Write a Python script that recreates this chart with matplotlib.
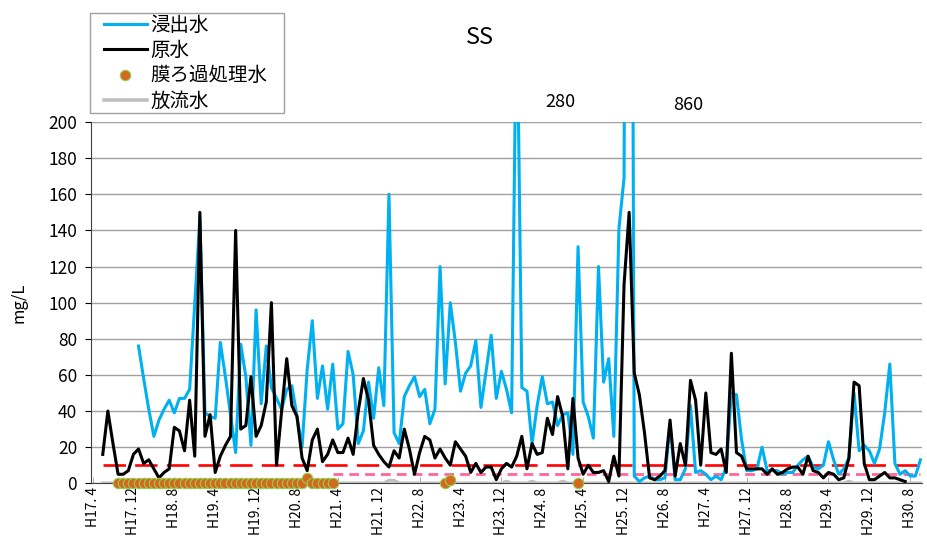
import matplotlib.pyplot as plt
from matplotlib.lines import Line2D
from matplotlib.patches import Rectangle

plt.rcParams['font.family'] = ['Noto Sans CJK JP', 'DejaVu Sans']

# monthly axis: index 0 = H17.4 ... index 162 = H30.10
n_months = 163
tick_pos = list(range(0, 161, 8))
tick_labels = ["H17. 4", "H17. 12", "H18. 8", "H19. 4", "H19. 12", "H20. 8", "H21. 4",
               "H21. 12", "H22. 8", "H23. 4", "H23. 12", "H24. 8", "H25. 4", "H25. 12",
               "H26. 8", "H27. 4", "H27. 12", "H28. 8", "H29. 4", "H29. 12", "H30. 8"]

# 浸出水 (leachate), starts at index 9
leach_start = 9
leachate = [76, 58, 41, 26, 35, 41, 46, 39, 47, 47, 52,
            100, 147, 39, 37, 36, 78, 59, 38, 17, 77,
            59, 21, 96, 44, 76, 53, 47, 41, 52, 54,
            37, 20, 63, 90, 47, 65, 41, 66, 30, 33,
            73, 60, 22, 29, 56, 36, 64, 43, 160, 28,
            22, 48, 54, 59, 48, 52, 33, 41, 120, 55,
            100, 78, 51, 61, 65, 79, 42, 62, 82, 47,
            62, 52, 39, 280, 53, 51, 22, 43, 59, 44,
            45, 32, 38, 39, 16, 131, 45, 37, 25, 120,
            56, 69, 26, 141, 169, 860, 4, 1, 3, 4,
            2, 2, 3, 33, 2, 2, 8, 43, 6, 7,
            5, 2, 4, 2, 9, 50, 49, 24, 7, 7,
            8, 20, 7, 7, 7, 5, 6, 6, 10, 13,
            15, 9, 8, 10, 23, 13, 5, 8, 14, 50,
            18, 21, 18, 11, 19, 39, 66, 11, 5, 7,
            4, 4, 13]

# 原水 (raw water), starts at index 2
raw_start = 2
raw = [16, 40, 22, 5, 5, 7, 16, 19, 11, 13, 8, 3, 6, 8, 31, 29, 18, 46, 15, 150, 26, 38, 6, 15, 21, 26,
       140, 30, 32, 59, 26, 32, 45, 100, 10, 40, 69, 43, 37, 14, 7, 24, 30, 12, 16, 24, 17, 17, 25, 16, 40, 58, 46,
       21, 16, 12, 9, 18, 14, 30, 19, 5, 17, 26, 24, 14, 19, 14, 10, 23, 19, 15, 6, 11, 6, 9, 9, 2, 8, 11, 9,
       15, 26, 8, 22, 16, 17, 36, 27, 48, 37, 8, 47, 14, 5, 10, 6, 6, 7, 1, 15, 4, 110, 150, 61, 49, 28, 3,
       2, 4, 7, 35, 4, 22, 10, 57, 46, 10, 50, 17, 16, 19, 6, 72, 17, 15, 8, 8, 8, 8, 5, 8, 5, 6, 8, 9,
       9, 5, 15, 7, 6, 3, 6, 5, 2, 3, 14, 56, 54, 11, 2, 2, 4, 6, 3, 3, 2, 1]

# 膜ろ過処理水 (membrane treated water)
membrane_months = list(range(5, 48)) + [69, 70, 95]
membrane = [0, 0, 0, 0, 0, 0, 0, 0, 0, 0,
            0, 0, 0, 0, 0, 0, 0, 0, 0, 0,
            0, 0, 0, 0, 0, 0, 0, 0, 0, 0,
            0, 0, 0, 0, 0, 0, 0, 3, 0, 0,
            0, 0, 0,
            0, 2, 0]

# 放流水 (discharge), starts at index 2
discharge_start = 2
discharge = [0, 0, 0, 0, 0, 0, 0, 0, 0, 0,
             0, 0, 0, 0, 0, 0, 0, 0, 0, 0,
             0, 0, 0, 0, 0, 0, 0, 0, 0, 0,
             0, 0, 0, 0, 0, 0, 0, 0, 0, 0,
             0, 0, 0, 0, 0, 0, 0, 0, 0, 0,
             0, 0, 0, 0, 0, 0, 1.5, 1.5, 0, 0,
             0, 0, 0, 0, 0, 0, 0, 0, 0, 0,
             0, 0, 0, 0, 0, 0, 0, 0, 0, 1,
             0, 0, 0, 0, 1, 0, 0, 0, 0, 0,
             1, 0, 0, 0, 0, 0, 0, 0, 0, 0,
             0, 0, 0, 0, 0, 0, 0, 0, 0, 0,
             0, 0, 0, 0, 0, 0, 0, 0, 0, 0,
             0, 0, 0, 0, 0, 0, 0, 0, 0, 0,
             0, 0, 0, 0, 0, 0, 0, 0, 0, 0,
             0, 0, 0, 0, 0, 0, 1, 0, 0, 0,
             0, 0, 0, 0, 0, 0, 0, 0, 0, 0,
             0]

# reference levels
limit_high = 10
limit_high_start = 2
limit_low = 5
limit_low_start = 47

fig = plt.figure(figsize=(9.28, 5.41), dpi=100)
ax = fig.add_axes([91 / 928, 1 - 483.3 / 541, 831 / 928, 361.3 / 541])

last = n_months - 1
ax.plot([limit_high_start, last], [limit_high, limit_high], color='#FF0000', lw=1.9,
        dashes=(8.5, 3.5), zorder=2)
ax.plot([limit_low_start, last], [limit_low, limit_low], color='#FF6699', lw=2.0,
        dashes=(3.5, 2.2), zorder=2)

x_leach = range(leach_start, leach_start + len(leachate))
x_raw = range(raw_start, raw_start + len(raw))
x_dis = range(discharge_start, discharge_start + len(discharge))

ax.plot(x_dis, discharge, color='#BFBFBF', lw=2.6, zorder=3)
ax.plot(x_leach, leachate, color='#00B0F0', lw=2.2, zorder=4)
ax.plot(x_raw, raw, color='black', lw=2.2, zorder=5)
ax.plot(membrane_months, membrane, linestyle='none', marker='o', ms=7.5,
        markerfacecolor='#D2691E', markeredgecolor='#92D050', markeredgewidth=0.8,
        zorder=6, clip_on=False)

ax.set_xlim(-0.3, 162.3)
ax.set_ylim(0, 200)
ax.set_yticks(range(0, 201, 20))
ax.grid(axis='y', color='#A0A0A0', lw=1.0)
ax.set_axisbelow(True)

ax.set_xticks(tick_pos)
ax.set_xticklabels(tick_labels, rotation=90, va='top', ha='center', fontsize=10)
ax.set_xticks(range(0, 161, 16), minor=True)
ax.xaxis.remove_overlapping_locs = False
ax.tick_params(axis='x', which='major', length=0, pad=3)
ax.tick_params(axis='x', which='minor', length=4, direction='in', color='#A0A0A0')
ax.tick_params(axis='y', labelsize=12.5, length=4, pad=6)

for side in ['top', 'right']:
    ax.spines[side].set_visible(False)
ax.spines['left'].set_color('#404040')
ax.spines['bottom'].set_color('#404040')

ax.set_ylabel('mg/L', fontsize=12, labelpad=15)

ax.text(91.5, 211, '280', fontsize=13, ha='center', va='center', clip_on=False)
ax.text(116.6, 209.6, '860', fontsize=13, ha='center', va='center', clip_on=False)

fig.text(480 / 928, 1 - 38 / 541, 'SS', fontsize=17, ha='center', va='center')

handles = [Line2D([], [], color='#00B0F0', lw=2.2),
           Line2D([], [], color='black', lw=2.2),
           Line2D([], [], linestyle='none', marker='o', ms=7.5, markerfacecolor='#D2691E',
                  markeredgecolor='#92D050', markeredgewidth=0.8),
           Line2D([], [], color='#BFBFBF', lw=2.6)]
labels = ['浸出水', '原水', '膜ろ過処理水', '放流水']
leg = fig.legend(handles, labels, loc='upper left', bbox_to_anchor=(104 / 928, 1 - 14.5 / 541),
                 fontsize=14, frameon=False, handlelength=2.2, handletextpad=0.2,
                 labelspacing=0.23, borderpad=0, borderaxespad=0)

# legend box
fig.patches.append(Rectangle((90 / 928, 1 - 112.5 / 541), 194 / 928, 100 / 541,
                             transform=fig.transFigure, fill=False,
                             edgecolor='#A0A0A0', lw=1.0))

fig.savefig('out.png', dpi=100)
